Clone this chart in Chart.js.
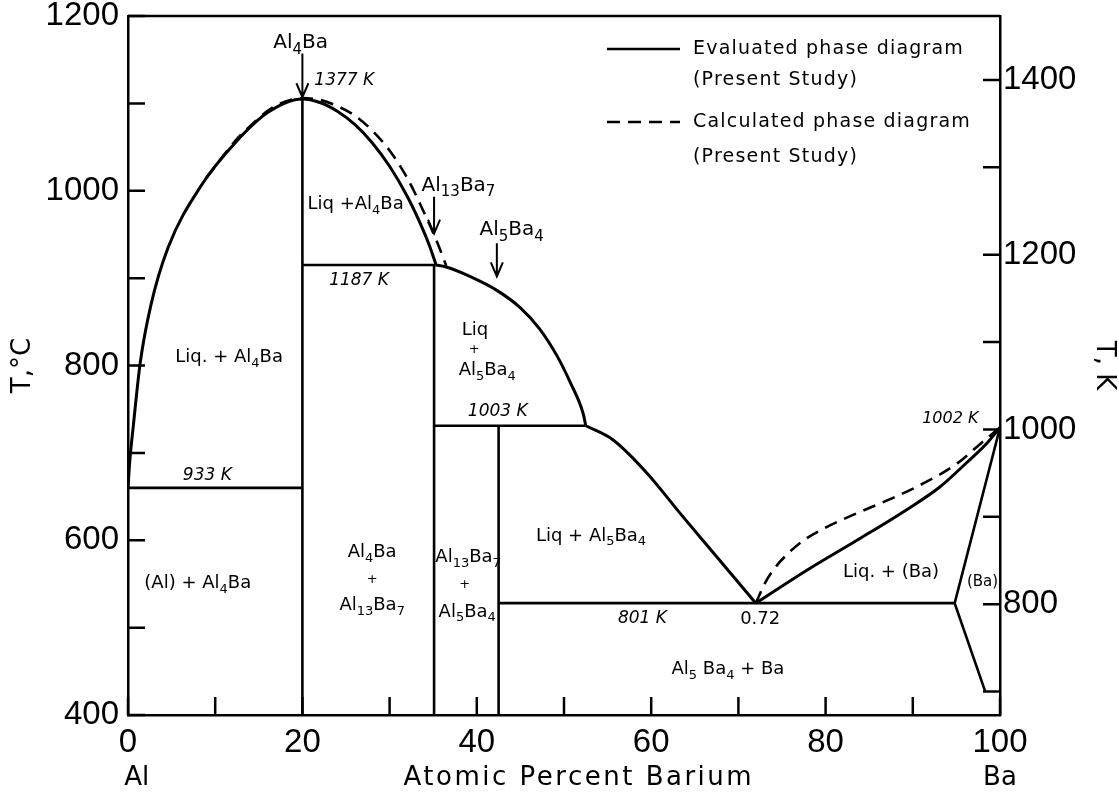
<!DOCTYPE html>
<html>
<head>
<meta charset="utf-8">
<title>Al-Ba phase diagram</title>
<script src="https://cdn.jsdelivr.net/npm/chart.js@4.4.1/dist/chart.umd.min.js"></script>
<style>
  html, body { margin: 0; padding: 0; background: #fff; }
  canvas { display: block; }
</style>
</head>
<body>
<canvas id="phase" width="1119" height="792"></canvas>
<script>
// Al-Ba phase diagram. x = at.% Ba, y = T in degC (right axis in K).

const xLabels = [0, 20, 40, 60, 80, 100];
const xTickMarks = [0, 10, 20, 30, 40, 50, 60, 70, 80, 90, 100];
const cLabels = [400, 600, 800, 1000, 1200];
const cTickMarks = [400, 500, 600, 700, 800, 900, 1000, 1100, 1200];
const kLabels = [800, 1000, 1200, 1400];
const kTickMarks = [700, 800, 900, 1000, 1100, 1200, 1300, 1400];

// evaluated (solid) boundaries, [at.% Ba, degC]
const liqAl4Ba = [[0,660],[0.2,690],[0.6,730],[1.4,803],[2.6,868],[4.6,935],[8.4,1006],[12.3,1055],[16.1,1090],[20,1105],
  [22,1101],[24,1091],[26,1076],[28,1055],[30,1028],[32,994],[33.5,963],[34.5,939],[35.3,916]];
const liqAl5Ba4Upper = [[35.3,915],[36.4,913],[39.2,902],[42.3,886],[45,866],[47.2,842],[49.2,811],[50.7,781],[52.2,745],[52.5,731]];
const liqAl5Ba4Lower = [[52.5,731],[55.6,715],[59.5,677],[63.3,631],[67.1,586],[72,528]];
const liqBa = [[72,528],[77.9,566],[83.6,600],[89.3,635],[93.1,661],[96.2,689],[98.5,711],[100,729]];
const solvusBa = [[100,729],[94.8,528],[98.3,427]];
const lineAl4Ba = [[20,400],[20,1105]];
const lineAl13Ba7 = [[35.1,400],[35.1,915]];
const lineAl5Ba4 = [[42.5,400],[42.5,731]];
const iso933 = [[0,660],[20,660]];
const iso1187 = [[20,915],[35.3,915]];
const iso1003 = [[35.1,731],[52.5,731]];
const iso801 = [[42.5,528],[94.8,528]];

// calculated (dashed) boundaries
const calcAl4Ba = [[9,1015],[12.3,1057],[14,1074],[16.1,1092],[18,1102],[20,1106],[22,1104],[24,1097],[26,1086],
  [28,1069],[30,1046],[32,1015],[34,974],[35.5,940],[36.5,914]];
const calcBa = [[72,528],[73,550],[74,566],[75.5,583],[77.5,600],[79.7,613],[83.6,631],[87.4,647],[91.2,665],[95.1,688],[97.7,710],[100,729]];

// text annotations in data coords
const notes = [
  { t: 'Al_{4}Ba', x: 19.8, y: 1169, size: 20 },
  { t: '1377 K', x: 24.8, y: 1126, it: true },
  { t: 'Liq +Al_{4}Ba', x: 26.1, y: 984 },
  { t: '1187 K', x: 26.5, y: 897, it: true },
  { t: 'Al_{13}Ba_{7}', x: 37.9, y: 1006, size: 20 },
  { t: 'Al_{5}Ba_{4}', x: 44.0, y: 955, size: 20 },
  { t: 'Liq. + Al_{4}Ba', x: 11.6, y: 809 },
  { t: '933 K', x: 9.1, y: 674, it: true },
  { t: '(Al) + Al_{4}Ba', x: 8.0, y: 551 },
  { t: 'Al_{4}Ba', x: 28, y: 586 },
  { t: '+', x: 28, y: 555, size: 13 },
  { t: 'Al_{13}Ba_{7}', x: 28, y: 525 },
  { t: 'Al_{13}Ba_{7}', x: 39, y: 580 },
  { t: '+', x: 38.6, y: 549, size: 13 },
  { t: 'Al_{5}Ba_{4}', x: 38.9, y: 518 },
  { t: 'Liq', x: 39.8, y: 840 },
  { t: '+', x: 39.7, y: 818, size: 13 },
  { t: 'Al_{5}Ba_{4}', x: 41.2, y: 794 },
  { t: '1003 K', x: 42.4, y: 747, it: true },
  { t: 'Liq + Al_{5}Ba_{4}', x: 53.1, y: 605 },
  { t: '801 K', x: 59, y: 510, it: true },
  { t: '0.72', x: 72.5, y: 510 },
  { t: 'Al_{5} Ba_{4} + Ba', x: 68.8, y: 452 },
  { t: 'Liq. + (Ba)', x: 87.5, y: 563 },
  { t: '(Ba)', x: 98, y: 552, size: 15 },
  { t: '1002 K', x: 94.3, y: 739, it: true, size: 16 }
];
const arrows = [
  { x: 20, from: 1157, to: 1107 },
  { x: 35.1, from: 993, to: 951 },
  { x: 42.3, from: 940, to: 902 }
];
const legendRows = [
  { lines: ['Evaluated phase diagram', '(Present Study)'], dash: [] },
  { lines: ['Calculated phase diagram', '(Present Study)'], dash: [13, 8] }
];

const FONT = '"DejaVu Sans", sans-serif';

const pts = a => a.map(([x, y]) => ({ x, y }));
function boundary(label, arr, extra) {
  return Object.assign({
    label, data: pts(arr), showLine: true, xAxisID: 'x', yAxisID: 'y',
    borderColor: '#000', borderWidth: 2.6, pointRadius: 0, fill: false, tension: 0
  }, extra || {});
}
const curve = { cubicInterpolationMode: 'monotone', borderWidth: 3 };
const dashed = { cubicInterpolationMode: 'monotone', borderWidth: 2.6, borderDash: [13, 8] };

function richParts(s) {
  const out = []; const re = /_\{([^}]*)\}/g; let last = 0, m;
  while ((m = re.exec(s))) {
    if (m.index > last) out.push({ t: s.slice(last, m.index), sub: false });
    out.push({ t: m[1], sub: true });
    last = re.lastIndex;
  }
  if (last < s.length) out.push({ t: s.slice(last), sub: false });
  return out;
}
function drawRich(ctx, s, x, y, size, italic, align) {
  const parts = richParts(s);
  const fMain = (italic ? 'italic ' : '') + size + 'px ' + FONT;
  const fSub = (italic ? 'italic ' : '') + Math.round(size * 0.74) + 'px ' + FONT;
  let w = 0;
  parts.forEach(p => { ctx.font = p.sub ? fSub : fMain; p.w = ctx.measureText(p.t).width; w += p.w; });
  let cx = align === 'left' ? x : align === 'right' ? x - w : x - w / 2;
  ctx.textAlign = 'left';
  ctx.textBaseline = 'middle';
  parts.forEach(p => {
    ctx.font = p.sub ? fSub : fMain;
    ctx.fillText(p.t, cx, y + (p.sub ? size * 0.34 : 0));
    cx += p.w;
  });
}

const phasePlugin = {
  id: 'phaseExtras',
  afterDraw(chart) {
    const { ctx, chartArea: ca } = chart;
    const xs = chart.scales.x, ys = chart.scales.y, ks = chart.scales.y2;
    ctx.save();
    ctx.strokeStyle = '#000';
    ctx.fillStyle = '#000';
    ctx.lineWidth = 2.5;

    // top frame line
    ctx.beginPath();
    ctx.moveTo(ca.left, ca.top); ctx.lineTo(ca.right, ca.top);
    ctx.stroke();

    // inward tick marks
    ctx.beginPath();
    xTickMarks.forEach(v => { const px = xs.getPixelForValue(v); ctx.moveTo(px, ca.bottom); ctx.lineTo(px, ca.bottom - 18); });
    cTickMarks.forEach(v => { const py = ys.getPixelForValue(v); ctx.moveTo(ca.left, py); ctx.lineTo(ca.left + 17, py); });
    kTickMarks.forEach(v => { const py = ks.getPixelForValue(v); ctx.moveTo(ca.right, py); ctx.lineTo(ca.right - 17, py); });
    ctx.stroke();

    // arrows
    ctx.lineWidth = 2;
    arrows.forEach(a => {
      const px = xs.getPixelForValue(a.x), y1 = ys.getPixelForValue(a.from), y2 = ys.getPixelForValue(a.to);
      ctx.beginPath();
      ctx.moveTo(px, y1); ctx.lineTo(px, y2);
      ctx.moveTo(px - 6, y2 - 14); ctx.lineTo(px, y2); ctx.lineTo(px + 6, y2 - 14);
      ctx.stroke();
    });

    // region labels
    notes.forEach(n => {
      drawRich(ctx, n.t, xs.getPixelForValue(n.x), ys.getPixelForValue(n.y), n.size || (n.it ? 17 : 18), !!n.it, 'center');
    });

    // legend
    const lx0 = ca.left + 479, lx1 = ca.left + 552, tx = ca.left + 565;
    const rowY = [[ca.top + 33, ca.top + 64], [ca.top + 106, ca.top + 141]];
    ctx.letterSpacing = '1.2px';
    legendRows.forEach((r, i) => {
      ctx.lineWidth = 2.6;
      ctx.setLineDash(r.dash);
      ctx.beginPath(); ctx.moveTo(lx0, rowY[i][0]); ctx.lineTo(lx1, rowY[i][0]); ctx.stroke();
      ctx.setLineDash([]);
      drawRich(ctx, r.lines[0], tx, rowY[i][0], 19, false, 'left');
      drawRich(ctx, r.lines[1], tx, rowY[i][1], 19, false, 'left');
    });

    // x axis captions
    ctx.letterSpacing = '0px';
    const cy = 778;
    drawRich(ctx, 'Al', xs.getPixelForValue(1), cy, 26, false, 'center');
    drawRich(ctx, 'Ba', xs.getPixelForValue(100), cy, 26, false, 'center');
    ctx.letterSpacing = '2.5px';
    drawRich(ctx, 'Atomic Percent Barium', xs.getPixelForValue(51.7), cy, 26, false, 'center');
    ctx.letterSpacing = '0px';
    ctx.restore();
  }
};

function fixBox(size, vertical) {
  return s => {
    if (vertical) s.width = size; else s.height = size;
    s.paddingTop = 0; s.paddingBottom = 0; s.paddingLeft = 0; s.paddingRight = 0;
  };
}
const tickFont = { family: '"Liberation Sans", Arial, sans-serif', size: 33 };
const plain = v => String(v);
const noGrid = { display: false, drawTicks: false };
const axisBorder = { display: true, color: '#000', width: 2.5 };

new Chart(document.getElementById('phase').getContext('2d'), {
  type: 'scatter',
  data: {
    datasets: [
      boundary('Liquidus Al4Ba', liqAl4Ba, curve),
      boundary('Liquidus Al5Ba4 upper', liqAl5Ba4Upper, curve),
      boundary('Liquidus Al5Ba4 lower', liqAl5Ba4Lower, curve),
      boundary('Liquidus Ba', liqBa, curve),
      boundary('Solvus Ba', solvusBa),
      boundary('Al4Ba', lineAl4Ba),
      boundary('Al13Ba7', lineAl13Ba7),
      boundary('Al5Ba4', lineAl5Ba4),
      boundary('933 K', iso933),
      boundary('1187 K', iso1187),
      boundary('1003 K', iso1003),
      boundary('801 K', iso801),
      boundary('Calculated Al4Ba', calcAl4Ba, dashed),
      boundary('Calculated Ba', calcBa, dashed)
    ]
  },
  options: {
    responsive: false,
    animation: false,
    layout: { padding: { top: 16, left: 0, right: 0, bottom: 0 } },
    plugins: { legend: { display: false }, tooltip: { enabled: false } },
    scales: {
      x: {
        type: 'linear', position: 'bottom', min: 0, max: 100,
        afterBuildTicks: s => { s.ticks = xLabels.map(v => ({ value: v })); },
        ticks: { font: tickFont, color: '#000', padding: 8, maxRotation: 0, autoSkip: false, callback: plain },
        grid: noGrid, border: axisBorder,
        afterFit: fixBox(77, false)
      },
      y: {
        type: 'linear', position: 'left', min: 400, max: 1200,
        afterBuildTicks: s => { s.ticks = cLabels.map(v => ({ value: v })); },
        ticks: { font: tickFont, color: '#000', padding: 9, autoSkip: false, callback: plain },
        grid: noGrid, border: axisBorder,
        title: { display: true, text: 'T,°C', color: '#000', font: { family: FONT, size: 26 }, padding: { top: 8, bottom: 0 } },
        afterFit: fixBox(128, true)
      },
      y2: {
        type: 'linear', position: 'right', min: 400 + 273.15, max: 1200 + 273.15,
        afterBuildTicks: s => { s.ticks = kLabels.map(v => ({ value: v })); },
        ticks: { font: tickFont, color: '#000', padding: 3, autoSkip: false, callback: plain },
        grid: noGrid, border: axisBorder,
        title: { display: true, text: 'T, K', color: '#000', font: { family: FONT, size: 26 }, padding: { top: 0, bottom: 0 } },
        afterFit: fixBox(119, true)
      }
    }
  },
  plugins: [phasePlugin]
});
</script>
</body>
</html>
